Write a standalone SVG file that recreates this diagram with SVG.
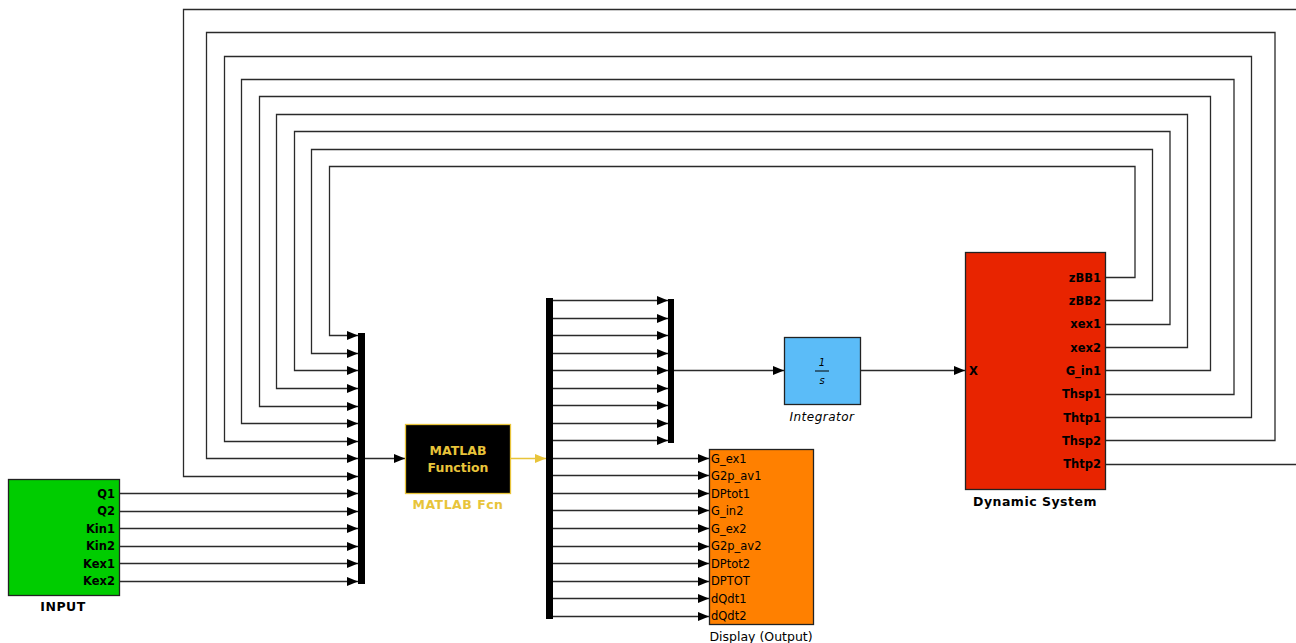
<svg xmlns="http://www.w3.org/2000/svg" width="1296" height="643" viewBox="0 0 1296 643">
<defs>
<marker id="ah" markerUnits="userSpaceOnUse" markerWidth="12" markerHeight="10" refX="11" refY="5" orient="auto"><path d="M0,0.5 L11,5 L0,9.5 Z" fill="#000"/></marker>
<marker id="ahy" markerUnits="userSpaceOnUse" markerWidth="12" markerHeight="10" refX="11" refY="5" orient="auto"><path d="M0,0.5 L11,5 L0,9.5 Z" fill="#e8c43a"/></marker>
</defs>
<style>
.w{fill:none;stroke:#2a2a2a;stroke-width:1.3}
.a{marker-end:url(#ah)}
.y{fill:none;stroke:#e8c43a;stroke-width:1.3;marker-end:url(#ahy)}
.bar{fill:#000}
.t{font-family:"DejaVu Sans",sans-serif;font-size:11.5px;fill:#000}
.b{font-weight:bold}
.r{text-anchor:end}
.c{text-anchor:middle}
.blk{stroke:#222;stroke-width:1.3}
</style>
<rect width="1296" height="643" fill="#fff"/>
<g id="connectors">
<path class="w a" d="M1106,277.5 H1135 V166.5 H329.5 V335.5 H358"/>
<path class="w a" d="M1106,300.5 H1152.5 V149.5 H311.5 V353.5 H358"/>
<path class="w a" d="M1106,324.5 H1170 V131.5 H294.5 V370.5 H358"/>
<path class="w a" d="M1106,347.5 H1187.5 V114.5 H276.5 V388.5 H358"/>
<path class="w a" d="M1106,370.5 H1210.5 V96.5 H259.5 V406.5 H358"/>
<path class="w a" d="M1106,394.5 H1234 V79.5 H241.5 V423.5 H358"/>
<path class="w a" d="M1106,417.5 H1251.5 V56.5 H224.5 V441.5 H358"/>
<path class="w a" d="M1106,440.5 H1275 V32.5 H206.5 V458.5 H358"/>
<path class="w a" d="M1106,464.5 H1302 V9.5 H183.5 V476.5 H358"/>
<path class="w a" d="M120,493.5 H358"/>
<path class="w a" d="M120,511.5 H358"/>
<path class="w a" d="M120,528.5 H358"/>
<path class="w a" d="M120,546.5 H358"/>
<path class="w a" d="M120,563.5 H358"/>
<path class="w a" d="M120,581.5 H358"/>
<path class="w a" d="M365,458.5 H405"/>
<path class="y" d="M511,458.5 H546"/>
<path class="w a" d="M553,300.5 H668"/>
<path class="w a" d="M553,318.5 H668"/>
<path class="w a" d="M553,335.5 H668"/>
<path class="w a" d="M553,353.5 H668"/>
<path class="w a" d="M553,370.5 H668"/>
<path class="w a" d="M553,388.5 H668"/>
<path class="w a" d="M553,405.5 H668"/>
<path class="w a" d="M553,423.5 H668"/>
<path class="w a" d="M553,440.5 H668"/>
<path class="w a" d="M553,458.5 H709"/>
<path class="w a" d="M553,475.5 H709"/>
<path class="w a" d="M553,493.5 H709"/>
<path class="w a" d="M553,510.5 H709"/>
<path class="w a" d="M553,528.5 H709"/>
<path class="w a" d="M553,546.5 H709"/>
<path class="w a" d="M553,563.5 H709"/>
<path class="w a" d="M553,581.5 H709"/>
<path class="w a" d="M553,598.5 H709"/>
<path class="w a" d="M553,616.5 H709"/>
<path class="w a" d="M674,370.5 H784"/>
<path class="w a" d="M861,370.5 H965"/>
</g>
<g id="input">
<rect class="blk" x="8.5" y="479.5" width="111" height="116" fill="#00cc00"/>
<text class="t b r" x="115" y="497.5">Q1</text>
<text class="t b r" x="115" y="515">Q2</text>
<text class="t b r" x="115" y="532.5">Kin1</text>
<text class="t b r" x="115" y="550">Kin2</text>
<text class="t b r" x="115" y="567.5">Kex1</text>
<text class="t b r" x="115" y="585">Kex2</text>
<text class="t b c" x="63" y="611" style="font-size:12.5px;letter-spacing:0.5px">INPUT</text>
</g>
<g id="mux1"><rect class="bar" x="358" y="333" width="7" height="251"/></g>
<g id="matlab-fcn">
<rect x="405.5" y="424.5" width="105" height="69" fill="#000" stroke="#e8c43a" stroke-width="1.3"/>
<text class="t b c" x="458" y="455" style="fill:#e8c43a;font-size:12.5px">MATLAB</text>
<text class="t b c" x="458" y="472" style="fill:#e8c43a;font-size:12.5px">Function</text>
<text class="t b c" x="458" y="509" style="fill:#e8c43a;font-size:12.5px;letter-spacing:0.5px">MATLAB Fcn</text>
</g>
<g id="demux"><rect class="bar" x="546" y="298" width="7" height="321"/></g>
<g id="mux2"><rect class="bar" x="668" y="299" width="6" height="144"/></g>
<g id="integrator">
<rect class="blk" x="784.5" y="337.5" width="76" height="67" fill="#5bbcf8"/>
<text class="t c" x="822" y="366" style="font-style:italic;font-size:10px">1</text>
<line x1="815" y1="371" x2="829" y2="371" stroke="#000" stroke-width="1"/>
<text class="t c" x="822" y="384" style="font-style:italic;font-size:10px">s</text>
<text class="t c" x="822" y="421" style="font-style:italic;font-size:12px;letter-spacing:0.5px">Integrator</text>
</g>
<g id="display">
<rect class="blk" x="709.5" y="449.5" width="104" height="175" fill="#ff8000"/>
<text class="t" x="711" y="463">G_ex1</text>
<text class="t" x="711" y="480">G2p_av1</text>
<text class="t" x="711" y="497.5">DPtot1</text>
<text class="t" x="711" y="515">G_in2</text>
<text class="t" x="711" y="532.5">G_ex2</text>
<text class="t" x="711" y="550">G2p_av2</text>
<text class="t" x="711" y="567.5">DPtot2</text>
<text class="t" x="711" y="585">DPTOT</text>
<text class="t" x="711" y="602.5">dQdt1</text>
<text class="t" x="711" y="620">dQdt2</text>
<text class="t c" x="761" y="641" style="font-size:12.5px">Display (Output)</text>
</g>
<g id="dynamic-system">
<rect class="blk" x="965.5" y="252.5" width="140" height="237" fill="#e82400"/>
<text class="t b" x="969" y="375">X</text>
<text class="t b r" x="1101" y="281.5">zBB1</text>
<text class="t b r" x="1101" y="304.5">zBB2</text>
<text class="t b r" x="1101" y="328">xex1</text>
<text class="t b r" x="1101" y="351.5">xex2</text>
<text class="t b r" x="1101" y="374.5">G_in1</text>
<text class="t b r" x="1101" y="398">Thsp1</text>
<text class="t b r" x="1101" y="421.5">Thtp1</text>
<text class="t b r" x="1101" y="444.5">Thsp2</text>
<text class="t b r" x="1101" y="468">Thtp2</text>
<text class="t b c" x="1035" y="506" style="font-size:12.5px;letter-spacing:0.5px">Dynamic System</text>
</g>
</svg>
